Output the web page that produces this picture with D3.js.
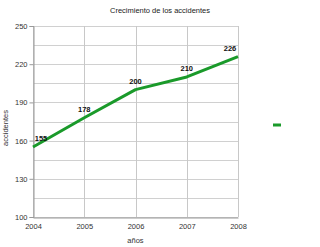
<!DOCTYPE html>
<html>
<head>
<meta charset="utf-8">
<script src="https://cdn.jsdelivr.net/npm/d3@7"></script>
<style>
  body { margin: 0; background: #fff; }
  svg { font-family: "Liberation Sans", Arial, sans-serif; }
</style>
</head>
<body>
<div id="chart"></div>
<script>
const years = [2004, 2005, 2006, 2007, 2008];
const accidentes = [155, 178, 200, 210, 226];
const yTicks = [100, 130, 160, 190, 220, 250];
const yGrid = [100, 115, 130, 145, 160, 175, 190, 205, 220, 235, 250];

const width = 320;
const height = 247;
const margin = { top: 26, right: 82, bottom: 30, left: 33 };
const innerWidth = width - margin.left - margin.right;
const innerHeight = height - margin.top - margin.bottom;

const svg = d3.select("#chart")
    .append("svg")
    .attr("width", width)
    .attr("height", height);

const g = svg.append("g")
    .attr("transform", `translate(${margin.left}, ${margin.top})`);

const xScale = d3.scaleLinear()
    .domain([2004, 2008])
    .range([0, innerWidth]);

const yScale = d3.scaleLinear()
    .domain([100, 250])
    .range([innerHeight, 0]);

// rejilla
g.selectAll(".hgrid")
    .data(yGrid)
    .enter()
    .append("line")
    .attr("x1", 0)
    .attr("x2", innerWidth)
    .attr("y1", d => Math.round(yScale(d)) + 0.5)
    .attr("y2", d => Math.round(yScale(d)) + 0.5)
    .attr("stroke", "#d0d0d0")
    .attr("stroke-width", 1);

g.selectAll(".vgrid")
    .data(years)
    .enter()
    .append("line")
    .attr("x1", d => Math.round(xScale(d)) + 0.5)
    .attr("x2", d => Math.round(xScale(d)) + 0.5)
    .attr("y1", 0)
    .attr("y2", innerHeight)
    .attr("stroke", "#c8c8c8")
    .attr("stroke-width", 1);

// Eixos
const yAxis = g.append("g")
    .attr("transform", "translate(0.5, 0)")
    .call(d3.axisLeft(yScale).tickValues(yTicks).tickSize(4).tickPadding(2));

const xAxis = g.append("g")
    .attr("transform", `translate(0, ${innerHeight + 0.5})`)
    .call(d3.axisBottom(xScale).tickValues(years).tickFormat(d3.format("d")).tickSize(0).tickPadding(6));

[yAxis, xAxis].forEach(a => {
    a.select(".domain").attr("stroke", "#999");
    a.selectAll(".tick line").attr("stroke", "#999");
    a.selectAll("text")
        .attr("fill", "#333")
        .style("font-size", "7.5px")
        .style("font-family", "Liberation Sans, Arial, sans-serif");
});

// Linha
const line = d3.line()
    .x((d, i) => xScale(years[i]))
    .y(d => yScale(d));

g.append("path")
    .datum(accidentes)
    .attr("fill", "none")
    .attr("stroke", "#1a9a2a")
    .attr("stroke-width", 3)
    .attr("stroke-linejoin", "round")
    .attr("d", line);

// etiquetas de valor
g.selectAll(".value")
    .data(accidentes)
    .enter()
    .append("text")
    .attr("x", (d, i) => Math.max(8, Math.min(innerWidth - 8, xScale(years[i]))))
    .attr("y", d => yScale(d) - 6)
    .attr("text-anchor", "middle")
    .style("font-size", "7.5px")
    .style("font-weight", "bold")
    .attr("fill", "#111")
    .text(d => d);

// títulos
svg.append("text")
    .attr("x", 160)
    .attr("y", 13)
    .attr("text-anchor", "middle")
    .style("font-size", "7.5px")
    .attr("fill", "#222")
    .text("Crecimiento de los accidentes");

svg.append("text")
    .attr("x", margin.left + innerWidth / 2)
    .attr("y", 243)
    .attr("text-anchor", "middle")
    .style("font-size", "7.5px")
    .attr("fill", "#333")
    .text("años");

svg.append("text")
    .attr("transform", "translate(8, 128) rotate(-90)")
    .attr("text-anchor", "middle")
    .style("font-size", "7.5px")
    .attr("fill", "#333")
    .text("accidentes");

// leyenda
svg.append("line")
    .attr("x1", 273)
    .attr("x2", 281)
    .attr("y1", 125)
    .attr("y2", 125)
    .attr("stroke", "#1a9a2a")
    .attr("stroke-width", 3);
</script>
</body>
</html>
